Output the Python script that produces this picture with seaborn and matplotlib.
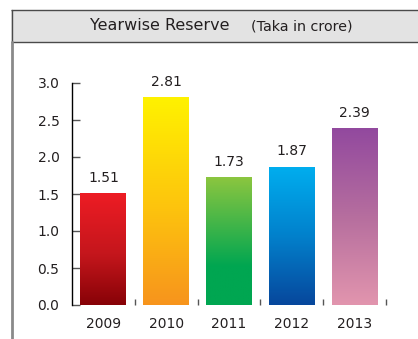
import matplotlib
matplotlib.use("Agg")
import matplotlib.pyplot as plt
import seaborn as sns
import numpy as np
import pandas as pd
from matplotlib.colors import LinearSegmentedColormap
from matplotlib.patches import Rectangle
from matplotlib.lines import Line2D

years = ["2009", "2010", "2011", "2012", "2013"]
reserve = [1.51, 2.81, 1.73, 1.87, 2.39]
value_labels = ["1.51", "2.81", "1.73", "1.87", "2.39"]
yticks = [0.0, 0.5, 1.0, 1.5, 2.0, 2.5, 3.0]
title_main = "Yearwise Reserve"
title_sub = "(Taka in crore)"

# gradient stops (bottom -> top)
gradients = [
    [(0.0, "#870207"), (0.45, "#C4161C"), (1.0, "#ED1C24")],
    [(0.0, "#F7941D"), (0.45, "#FDC20E"), (1.0, "#FFF200")],
    [(0.0, "#00A651"), (0.3, "#00A651"), (1.0, "#8DC63F")],
    [(0.0, "#07479C"), (0.5, "#0281CC"), (1.0, "#00AEEF")],
    [(0.0, "#E295AE"), (0.5, "#B66E9E"), (1.0, "#92499E")],
]

sns.set_theme(style="white")
plt.rcParams["font.family"] = ["DejaVu Sans"]
text_color = "#231F20"

fig = plt.figure(figsize=(4.18, 3.39), dpi=100)
W, H = 418, 339

# header band (extends past the right edge)
fig.patches.append(Rectangle((11 / W, 1 - 42 / H), 1.0, 32 / H,
                             transform=fig.transFigure, facecolor="#E3E3E3",
                             edgecolor="none", linewidth=0, zorder=0))
for yy in (10, 42):
    fig.lines.append(Line2D([11 / W, 1.0], [1 - yy / H, 1 - yy / H],
                            transform=fig.transFigure, color="#4A4A4A",
                            linewidth=1.0, solid_capstyle="butt"))
fig.lines.append(Line2D([11.5 / W, 11.5 / W], [1 - 10 / H, 1 - 42 / H],
                        transform=fig.transFigure, color="#4A4A4A", linewidth=1.0))
fig.lines.append(Line2D([11.5 / W, 11.5 / W], [1 - 42 / H, 0], transform=fig.transFigure,
                        color="#8A8A8A", linewidth=2.0))
fig.text(160 / W, 1 - 26 / H, title_main, ha="center", va="center",
         fontsize=11.5, color=text_color)
fig.text(302 / W, 1 - 26 / H, title_sub, ha="center", va="center",
         fontsize=10.3, color=text_color)

ax = fig.add_axes([72 / W, 34 / H, (386 - 72) / W, (305 - 83) / H])
df = pd.DataFrame({"year": years, "reserve": reserve})
sns.barplot(data=df, x="year", y="reserve", ax=ax, width=0.73, color="#cccccc",
            saturation=1, linewidth=0)

ax.set_xlim(-0.5, len(years) - 0.5)
ax.set_ylim(0, 3.0)
ax.set_yticks(yticks)
ax.set_yticklabels([f"{v:.1f}" for v in yticks])
ax.set_xlabel("")
ax.set_ylabel("")
for s in ["top", "right", "bottom"]:
    ax.spines[s].set_visible(False)
ax.spines["left"].set_color("black")
ax.spines["left"].set_linewidth(1.0)
ax.tick_params(axis="y", direction="in", length=6, width=1, color="#555555",
               pad=9, labelsize=10, labelcolor=text_color, left=True)
ax.tick_params(axis="x", which="major", length=0, pad=9, labelsize=10,
               labelcolor=text_color, bottom=True)
ax.set_xticks(np.arange(len(years)) + 0.5, minor=True)
ax.tick_params(axis="x", which="minor", direction="in", length=4, width=1,
               color="#555555", bottom=True)
ax.grid(False)

for patch, grad, lab in zip(ax.patches, gradients, value_labels):
    x0 = patch.get_x()
    w = patch.get_width()
    h = patch.get_height()
    cmap = LinearSegmentedColormap.from_list("g", grad)
    img = np.linspace(1, 0, 256).reshape(-1, 1)
    im = ax.imshow(img, cmap=cmap, vmin=0, vmax=1, aspect="auto",
                   extent=[x0, x0 + w, 0, h], origin="upper", zorder=3,
                   interpolation="bilinear")
    im.set_clip_path(patch)
    ax.annotate(lab, (x0 + w / 2, h), xytext=(0, 6), textcoords="offset points",
                ha="center", va="bottom", fontsize=10, color=text_color)

ax.set_xlim(-0.5, len(years) - 0.5)
ax.set_ylim(0, 3.0)

fig.savefig("out.png", dpi=100)
